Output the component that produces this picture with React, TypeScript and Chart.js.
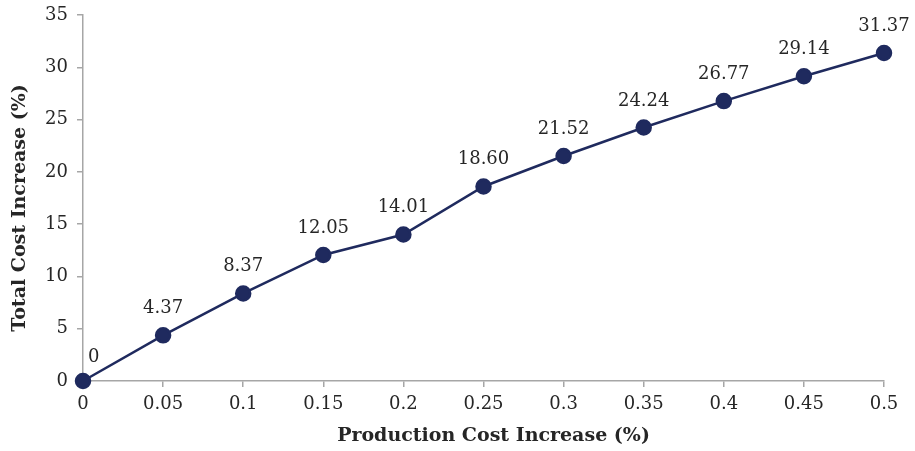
import React, { useEffect, useRef } from "react";
import { Chart, registerables } from "chart.js";

Chart.register(...registerables);

const categories = ["0", "0.05", "0.1", "0.15", "0.2", "0.25", "0.3", "0.35", "0.4", "0.45", "0.5"];
const totalCostIncrease = [0, 4.37, 8.37, 12.05, 14.01, 18.6, 21.52, 24.24, 26.77, 29.14, 31.37];
const pointLabels = ["0", "4.37", "8.37", "12.05", "14.01", "18.60", "21.52", "24.24", "26.77", "29.14", "31.37"];
const xTitle = "Production Cost Increase (%)";
const yTitle = "Total Cost Increase (%)";

const NAVY = "#1F2A5E";
const AXIS = "#A6A6A6";
const TEXT = "#262626";
const FONT = "'DejaVu Serif', serif";

const labelPlugin = {
  id: "pointLabels",
  afterDatasetsDraw(chart: any) {
    const meta = chart.getDatasetMeta(0);
    const ctx = chart.ctx;
    ctx.save();
    ctx.font = `18px ${FONT}`;
    ctx.fillStyle = TEXT;
    ctx.textBaseline = "alphabetic";
    meta.data.forEach((pt: any, i: number) => {
      if (i === 0) {
        ctx.textAlign = "left";
        ctx.fillText(pointLabels[i], pt.x + 5, pt.y - 19);
      } else {
        ctx.textAlign = "center";
        ctx.fillText(pointLabels[i], pt.x, pt.y - 22);
      }
    });
    ctx.restore();
  },
};

const titlePlugin = {
  id: "axisTitles",
  afterDraw(chart: any) {
    const ctx = chart.ctx;
    const area = chart.chartArea;
    ctx.save();
    ctx.font = `bold 19px ${FONT}`;
    ctx.fillStyle = TEXT;
    ctx.textAlign = "center";
    ctx.textBaseline = "middle";
    ctx.fillText(xTitle, (area.left + area.right) / 2 + 10, chart.height - 15);
    ctx.translate(20, (area.top + area.bottom) / 2 + 10);
    ctx.rotate(-Math.PI / 2);
    ctx.fillText(yTitle, 0, 0);
    ctx.restore();
  },
};

export default function App() {
  const ref = useRef<HTMLCanvasElement>(null);
  useEffect(() => {
    if (!ref.current) return;
    const chart = new Chart(ref.current, {
      type: "line",
      data: {
        labels: categories,
        datasets: [
          {
            data: totalCostIncrease,
            borderColor: NAVY,
            backgroundColor: NAVY,
            borderWidth: 2.5,
            pointRadius: 7,
            pointHoverRadius: 7,
            pointBackgroundColor: NAVY,
            pointBorderColor: NAVY,
            tension: 0,
            clip: false as any,
          },
        ],
      },
      options: {
        animation: false,
        responsive: true,
        maintainAspectRatio: false,
        layout: { padding: { left: 0, right: 31, top: 15, bottom: 0 } },
        plugins: { legend: { display: false }, tooltip: { enabled: false } },
        scales: {
          x: {
            type: "category",
            offset: false,
            grid: { display: true, drawOnChartArea: false, drawTicks: true, tickLength: 6, color: AXIS, lineWidth: 1.5 },
            border: { display: true, color: AXIS, width: 1.5 },
            ticks: { color: TEXT, font: { family: FONT, size: 18 }, padding: 7, maxRotation: 0, autoSkip: false },
            title: { display: false },
            afterFit(scale: any) {
              scale.height = 70;
              scale.paddingLeft = 0;
              scale.paddingRight = 0;
            },
          },
          y: {
            min: 0,
            max: 35,
            ticks: { stepSize: 5, color: TEXT, font: { family: FONT, size: 18 }, padding: 9 },
            grid: { display: true, drawOnChartArea: false, drawTicks: true, tickLength: 6, color: AXIS, lineWidth: 1.5 },
            border: { display: true, color: AXIS, width: 1.5 },
            title: { display: false },
            afterFit(scale: any) {
              scale.width = 83;
              scale.paddingTop = 0;
              scale.paddingBottom = 0;
            },
          },
        },
      },
      plugins: [labelPlugin, titlePlugin],
    });
    return () => chart.destroy();
  }, []);
  return (
    <div style={{ position: "fixed", left: 0, top: 0, width: 915, height: 451, background: "#fff" }}>
      <canvas ref={ref} />
    </div>
  );
}
